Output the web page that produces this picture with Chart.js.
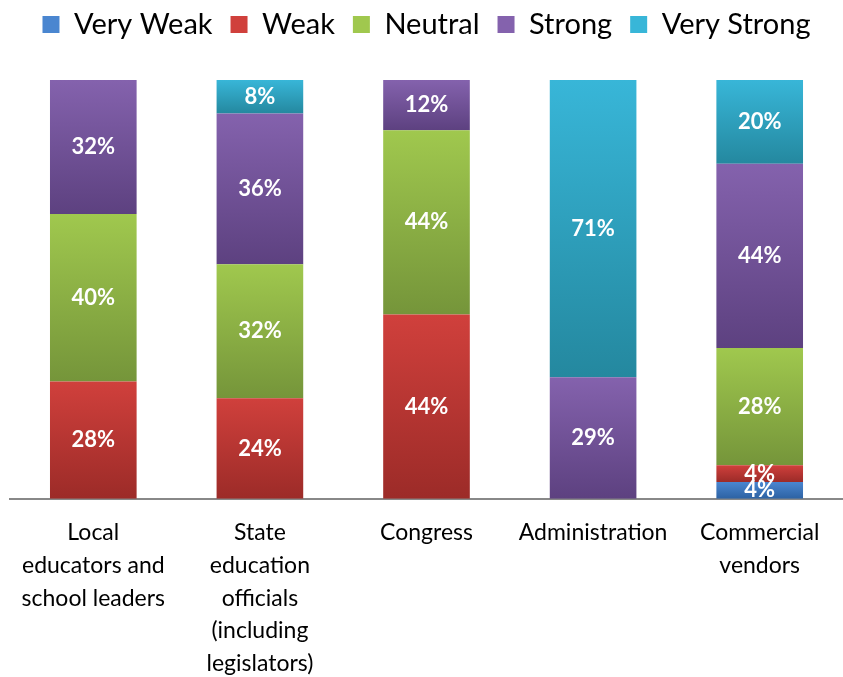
<!DOCTYPE html>
<html>
<head>
<meta charset="utf-8">
<script src="https://cdn.jsdelivr.net/npm/chart.js"></script>
<style>
  html, body { margin: 0; padding: 0; background: #fff; }
  #wrap { width: 843px; height: 677px; }
</style>
</head>
<body>
<div id="wrap"><canvas id="strengthChart"></canvas></div>
<script>
const categories = [
  ['Local', 'educators and', 'school leaders'],
  ['State', 'education', 'officials', '(including', 'legislators)'],
  ['Congress'],
  ['Administration'],
  ['Commercial', 'vendors']
];
const seriesNames = ['Very Weak', 'Weak', 'Neutral', 'Strong', 'Very Strong'];
const veryWeak   = [0, 0, 0, 0, 4];
const weak       = [28, 24, 44, 0, 4];
const neutral    = [40, 32, 44, 0, 28];
const strong     = [32, 36, 12, 29, 44];
const veryStrong = [0, 8, 0, 71, 20];
const allSeries = [veryWeak, weak, neutral, strong, veryStrong];

// top / bottom gradient colours for each series
const topColors    = ['#4a86d0', '#d0403c', '#a0c84e', '#8462ad', '#38b6d8'];
const bottomColors = ['#2d62a3', '#9c2b28', '#75953a', '#5d4180', '#24889f'];

const FONT = 'Lato, "Open Sans", sans-serif';

function segmentFill(i) {
  return function (ctx) {
    const chart = ctx.chart;
    const y = chart.scales.y;
    if (!chart.chartArea || !y || ctx.dataIndex === undefined) return topColors[i];
    let start = 0;
    for (let k = 0; k < i; k++) start += allSeries[k][ctx.dataIndex];
    const end = start + allSeries[i][ctx.dataIndex];
    const yTop = y.getPixelForValue(end);
    const yBot = y.getPixelForValue(start);
    if (!isFinite(yTop) || !isFinite(yBot) || yTop === yBot) return topColors[i];
    const g = chart.ctx.createLinearGradient(0, yTop, 0, yBot);
    g.addColorStop(0, topColors[i]);
    g.addColorStop(1, bottomColors[i]);
    return g;
  };
}

const valueLabels = {
  id: 'valueLabels',
  afterDatasetsDraw(chart) {
    const c = chart.ctx;
    c.save();
    c.fillStyle = '#ffffff';
    c.font = 'bold 22px ' + FONT;
    c.textAlign = 'center';
    c.textBaseline = 'middle';
    chart.data.datasets.forEach((ds, di) => {
      chart.getDatasetMeta(di).data.forEach((bar, j) => {
        const v = ds.data[j];
        if (!v) return;
        const mid = (bar.y + bar.base) / 2;
        c.fillText(v + '%', bar.x, mid);
      });
    });
    c.restore();
  }
};

new Chart(document.getElementById('strengthChart'), {
  type: 'bar',
  data: {
    labels: categories,
    datasets: seriesNames.map((name, i) => ({
      label: name,
      data: allSeries[i],
      backgroundColor: segmentFill(i),
      borderWidth: 0,
      categoryPercentage: 1,
      barPercentage: 0.52
    }))
  },
  options: {
    responsive: true,
    maintainAspectRatio: false,
    animation: false,
    layout: { padding: { left: 10, right: 0, top: -8, bottom: 0 } },
    plugins: {
      legend: {
        position: 'top',
        labels: {
          font: { family: FONT, size: 29 },
          color: '#000',
          boxWidth: 17,
          boxHeight: 17,
          padding: 18,
          generateLabels(chart) {
            return seriesNames.map((n, i) => ({
              text: n,
              fillStyle: topColors[i],
              strokeStyle: topColors[i],
              lineWidth: 0,
              datasetIndex: i
            }));
          }
        }
      },
      tooltip: { enabled: false }
    },
    scales: {
      x: {
        stacked: true,
        grid: { display: false },
        border: { display: true, color: '#888888', width: 2 },
        ticks: {
          color: '#000',
          font: { family: FONT, size: 23, lineHeight: 1.42 },
          maxRotation: 0,
          autoSkip: false,
          padding: 10
        },
        afterFit(scale) {
          scale.height -= 13;
        }
      },
      y: {
        stacked: true,
        display: false,
        min: 0,
        max: 100
      }
    }
  },
  plugins: [valueLabels, {
    id: 'legendGap',
    beforeInit(chart) {
      const fit = chart.legend.fit;
      chart.legend.fit = function () {
        fit.bind(chart.legend)();
        this.height += 31;
      };
    }
  }]
});
</script>
</body>
</html>
